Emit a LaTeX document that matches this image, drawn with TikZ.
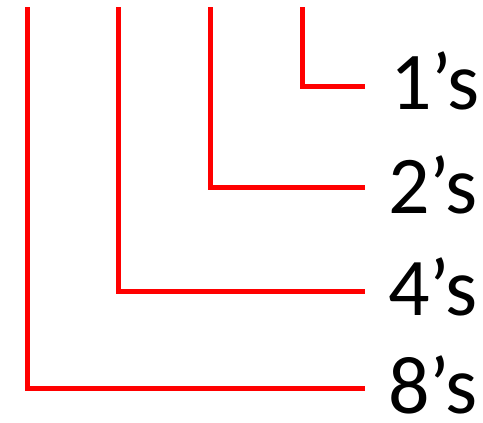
\documentclass[tikz,border=0pt]{standalone}
\usepackage{fontspec}
\setmainfont{Carlito}
\usetikzlibrary{positioning}

\begin{document}
\begin{tikzpicture}[
  x=1pt, y=-1pt,
  bar/.style={draw=red, line width=5pt},
  every node/.style={inner sep=0pt, font=\fontsize{82}{90}\selectfont}
]
\useasboundingbox (0,0) rectangle (483,423);

\coordinate (t8) at (27,7);
\coordinate (t4) at (118,7);
\coordinate (t2) at (210,7);
\coordinate (t1) at (302,7);

\node[anchor=base west] (l1) at (390,110) {1’s};
\node[anchor=base west] (l2) at (388,213) {2’s};
\node[anchor=base west] (l4) at (388,315) {4’s};
\node[anchor=base west] (l8) at (388,413) {8’s};

\draw[bar] (t1) |- ([shift={(-25,-24)}]l1.base west);
\draw[bar] (t2) |- ([shift={(-23,-26)}]l2.base west);
\draw[bar] (t4) |- ([shift={(-23,-24)}]l4.base west);
\draw[bar] (t8) |- ([shift={(-23,-25)}]l8.base west);

\end{tikzpicture}
\end{document}
